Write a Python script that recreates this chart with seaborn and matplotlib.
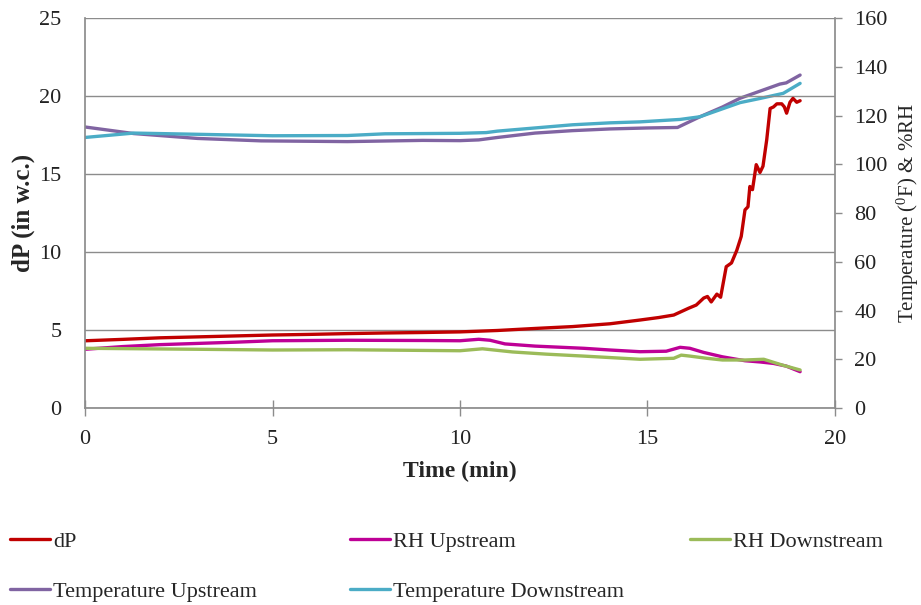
import matplotlib
matplotlib.use("Agg")
import matplotlib.pyplot as plt
import seaborn as sns
import pandas as pd

sns.set_theme(style="white")
plt.rcParams['font.family'] = ['Liberation Serif', 'DejaVu Serif']
plt.rcParams['mathtext.default'] = 'regular'

# ---- data ----
dp_t = [0, 1, 2, 3, 4, 5, 6, 7, 8, 9, 10, 11, 12, 13, 14, 14.8, 15.3, 15.7, 16.1, 16.3,
        16.5, 16.6, 16.7, 16.85, 16.95, 17.1, 17.24, 17.38, 17.5, 17.6, 17.68, 17.73, 17.8,
        17.9, 18.0, 18.08, 18.18, 18.27, 18.36, 18.45, 18.58, 18.65, 18.71, 18.8, 18.88,
        18.98, 19.07]
dp_v = [4.31, 4.4, 4.5, 4.56, 4.62, 4.68, 4.72, 4.77, 4.81, 4.84, 4.88, 4.97, 5.1, 5.22,
        5.4, 5.64, 5.8, 5.96, 6.4, 6.6, 7.05, 7.15, 6.8, 7.3, 7.1, 9.06, 9.3, 10.1, 11.0,
        12.7, 12.9, 14.2, 14.0, 15.6, 15.1, 15.5, 17.2, 19.2, 19.3, 19.5, 19.5, 19.3, 18.9,
        19.6, 19.85, 19.6, 19.7]

rhu_t = [0, 1, 2, 3, 4, 5, 7, 9, 10, 10.5, 10.8, 11.2, 12, 13.3, 14, 14.8, 15.5, 15.87,
         16.13, 16.5, 17.0, 17.6, 18.0, 18.36, 18.7, 19.07]
rhu_v = [24.1, 25.2, 26.0, 26.5, 27.0, 27.6, 27.8, 27.7, 27.6, 28.2, 27.8, 26.3, 25.4,
         24.5, 23.8, 23.1, 23.3, 24.9, 24.5, 22.8, 21.0, 19.4, 18.9, 18.3, 17.2, 14.9]

rhd_t = [0, 3, 5, 7, 10, 10.6, 11.4, 12.3, 13.3, 14, 14.8, 15.7, 15.9, 16.13, 16.58,
         17.0, 17.6, 18.1, 18.6, 19.07]
rhd_v = [24.5, 24.1, 23.8, 23.9, 23.5, 24.3, 23.0, 22.1, 21.3, 20.7, 20.0, 20.4, 21.7,
         21.3, 20.4, 19.7, 19.7, 20.0, 17.6, 15.6]

tu_t = [0, 1.3, 3, 4.7, 7, 9, 10, 10.5, 11, 12, 13, 14, 15, 15.8, 16.4, 17.0, 17.47,
        18.0, 18.53, 18.7, 19.07]
tu_v = [115.3, 112.6, 110.6, 109.6, 109.3, 109.8, 109.7, 110.0, 111.0, 112.8, 113.8,
        114.5, 114.9, 115.1, 119.5, 123.5, 127.1, 130.0, 132.9, 133.4, 136.6]

td_t = [0, 1.3, 3, 5, 7, 8, 10, 10.7, 11, 12, 13, 14, 14.8, 15.87, 16.4, 17.47, 18.0,
        18.62, 19.07]
td_v = [111.0, 112.8, 112.3, 111.7, 111.8, 112.5, 112.7, 113.0, 113.6, 114.9, 116.2,
        117.0, 117.4, 118.4, 119.5, 125.3, 127.0, 129.1, 133.2]

x_ticks = [0, 5, 10, 15, 20]
left_ticks = [0, 5, 10, 15, 20, 25]
right_ticks = [0, 20, 40, 60, 80, 100, 120, 140, 160]

names = ["dP", "RH Upstream", "RH Downstream", "Temperature Upstream", "Temperature Downstream"]
colors = ["#C00000", "#BE0096", "#9BBB59", "#8064A2", "#4BACC6"]

# ---- figure ----
fig = plt.figure(figsize=(9.21, 6.05), dpi=100)
ax = fig.add_axes([0.0923, 0.3256, 0.8143, 0.6446])
ax2 = ax.twinx()

lw = 2.4
right_series = [(rhu_t, rhu_v), (rhd_t, rhd_v), (tu_t, tu_v), (td_t, td_v)]
for (t, v), name, c in zip(right_series, names[1:], colors[1:]):
    sns.lineplot(x=t, y=v, ax=ax2, color=c, linewidth=lw, label=name, legend=False)
sns.lineplot(x=dp_t, y=dp_v, ax=ax, color=colors[0], linewidth=lw, label=names[0], legend=False)
ax.set_zorder(ax2.get_zorder() + 1)
ax.patch.set_visible(False)

gridc = "#8c8c8c"
ax.set_xlim(0, 20)
ax.set_ylim(0, 25)
ax2.set_ylim(0, 160)
ax.set_xticks(x_ticks)
ax.set_yticks(left_ticks)
ax2.set_yticks(right_ticks)
ax.yaxis.grid(True, color=gridc, linewidth=1.0)
ax.xaxis.grid(False)
ax2.grid(False)

for a in (ax, ax2):
    for s in a.spines.values():
        s.set_visible(False)
ax.spines['left'].set_visible(True)
ax.spines['left'].set_color(gridc)
ax.spines['bottom'].set_visible(True)
ax.spines['bottom'].set_color(gridc)
ax2.spines['right'].set_visible(True)
ax2.spines['right'].set_color(gridc)

tl = 16
ax.tick_params(axis='y', left=False, length=0, labelsize=tl, pad=17, colors='#222222')
ax.tick_params(axis='x', bottom=True, direction='inout', length=11, width=1.0,
               color=gridc, labelsize=tl, pad=10, labelcolor='#222222')
ax2.tick_params(axis='y', right=True, direction='out', length=5, width=1.0,
                color=gridc, labelsize=tl, pad=9, labelcolor='#222222')

ax.set_xlabel("Time (min)", fontsize=17, fontweight='bold')
ax.set_ylabel("dP (in w.c.)", fontsize=18, fontweight='bold')
ax2.set_ylabel(r"Temperature ($^{0}$F) & %RH", fontsize=15)
ax.xaxis.set_label_coords(0.5, -0.136)
ax.yaxis.set_label_coords(-0.0667, 0.5)
ax2.yaxis.set_label_coords(1.08, 0.5)

# legend: three columns placed like the reference
h_dp = ax.get_lines()[0]
h_r = ax2.get_lines()[:4]
leg_kw = dict(frameon=False, fontsize=16, handlelength=1.8, handletextpad=0.15,
              labelspacing=1.35, borderpad=0, borderaxespad=0, loc='upper left')
top = 1 - 531 / 605
l1 = fig.legend([h_dp, h_r[2]], [names[0], names[3]], bbox_to_anchor=(10 / 921, top), **leg_kw)
l2 = fig.legend([h_r[0], h_r[3]], [names[1], names[4]], bbox_to_anchor=(350 / 921, top), **leg_kw)
l3 = fig.legend([h_r[1]], [names[2]], bbox_to_anchor=(690 / 921, top), **leg_kw)

fig.savefig("out.png", dpi=100)
